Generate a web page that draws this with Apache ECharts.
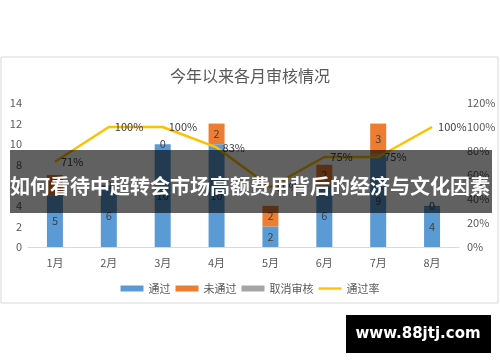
<!DOCTYPE html>
<html><head><meta charset="utf-8">
<script src="https://cdn.jsdelivr.net/npm/echarts@6/dist/echarts.min.js"></script>
<style>html,body{margin:0;padding:0;background:#fff}#c{width:500px;height:362px}</style>
</head><body><div id="c"></div>
<script>
var categories = ['1月','2月','3月','4月','5月','6月','7月','8月'];
var passed = [5, 6, 10, 10, 2, 6, 9, 4];
var failed = [2, 0, 0, 2, 2, 2, 3, 0];
var cancelled = [0, 0, 0, 0, 0, 0, 0, 0];
var passRate = [71, 100, 100, 83, 50, 75, 75, 100];
var leftTicks = {min: 0, max: 14, interval: 2};
var rightTicks = {min: 0, max: 120, interval: 20};
var titleText = '今年以来各月审核情况';
var bannerText = '如何看待中超转会市场高额费用背后的经济与文化因素';
var watermarkText = 'www.88jtj.com';

var font = '"Noto Sans CJK SC", "Noto Sans", sans-serif';
var chart = echarts.init(document.getElementById('c'));
var lbl = {show: true, position: 'inside', color: '#404040', fontSize: 11, fontFamily: font};
chart.setOption({
  animation: false,
  textStyle: {fontFamily: font},
  title: {text: titleText, left: 'center', top: 63, textStyle: {fontSize: 16, fontWeight: 'normal', color: '#595959', fontFamily: font}},
  grid: {left: 28, right: 41, top: 103, bottom: 115},
  legend: {top: 278, left: 'center', itemWidth: 23, itemHeight: 6, itemGap: 5,
    textStyle: {fontSize: 11, color: '#595959', fontFamily: font},
    data: [{name: '通过', icon: 'rect'}, {name: '未通过', icon: 'rect'}, {name: '取消审核', icon: 'rect'},
      {name: '通过率', icon: 'path://M0,0H100V10H0Z', itemStyle: {color: '#FFC000'}}]},
  xAxis: {type: 'category', data: categories,
    axisLine: {lineStyle: {color: '#d9d9d9'}}, axisTick: {show: false},
    axisLabel: {color: '#595959', fontSize: 11, margin: 10}},
  yAxis: [
    {type: 'value', min: leftTicks.min, max: leftTicks.max, interval: leftTicks.interval,
      splitLine: {show: false}, axisLabel: {color: '#595959', fontSize: 11, margin: 6}},
    {type: 'value', min: rightTicks.min, max: rightTicks.max, interval: rightTicks.interval,
      splitLine: {show: false}, axisLabel: {color: '#595959', fontSize: 11, margin: 8, formatter: '{value}%'}}
  ],
  series: [
    {name: '通过', type: 'bar', stack: 's', barWidth: 16, data: passed, itemStyle: {color: '#5B9BD5'}, label: lbl},
    {name: '未通过', type: 'bar', stack: 's', barWidth: 16, data: failed, itemStyle: {color: '#ED7D31'}, label: lbl},
    {name: '取消审核', type: 'bar', stack: 's', barWidth: 16, data: cancelled, itemStyle: {color: '#A5A5A5'}, label: {show: false}},
    {name: '通过率', type: 'line', yAxisIndex: 1, data: passRate, symbol: 'circle', symbolSize: 0, showSymbol: true,
      lineStyle: {color: '#FFC000', width: 2.5}, itemStyle: {color: '#FFC000'},
      label: {show: true, position: 'right', color: '#404040', fontSize: 11, formatter: '{c}%', distance: 6}}
  ],
  graphic: [
    {type: 'rect', z: -1, shape: {x: 1, y: 57, width: 497, height: 246}, style: {fill: 'none', stroke: '#d9d9d9', lineWidth: 1}},
    {type: 'rect', z: 100, shape: {x: 10, y: 150, width: 482, height: 63}, style: {fill: 'rgba(0,0,0,0.62)'}},
    {type: 'text', z: 101, x: 250, y: 186, style: {text: bannerText, fill: '#fff', font: 'bold 20px "Noto Sans CJK SC", sans-serif', textAlign: 'center', textVerticalAlign: 'middle'}},
    {type: 'rect', z: 100, shape: {x: 346, y: 315, width: 145, height: 38}, style: {fill: '#000'}},
    {type: 'text', z: 101, x: 418, y: 334, style: {text: watermarkText, fill: '#fff', font: 'bold 15px "DejaVu Sans", sans-serif', textAlign: 'center', textVerticalAlign: 'middle'}}
  ]
});
</script></body></html>
